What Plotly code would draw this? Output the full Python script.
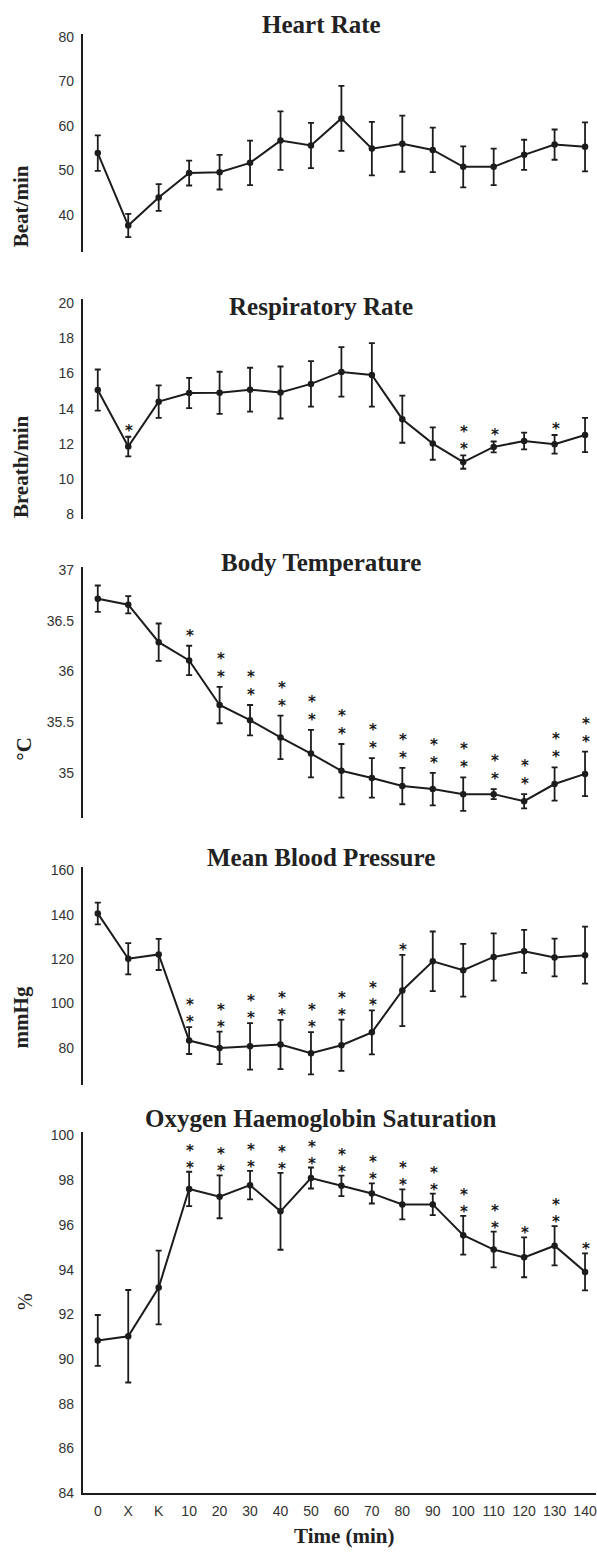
import plotly.graph_objects as go

W, H = 597, 1554

time_labels = ["0", "X", "K", "10", "20", "30", "40", "50", "60", "70",
               "80", "90", "100", "110", "120", "130", "140"]

hr_mean = [53.9, 37.6, 43.9, 49.4, 49.6, 51.7, 56.7, 55.6, 61.7, 54.9, 56.0, 54.6, 50.8, 50.8, 53.5, 55.8, 55.3]
hr_sd   = [4.0, 2.6, 3.0, 2.8, 3.9, 5.0, 6.6, 5.1, 7.3, 6.0, 6.3, 5.0, 4.6, 4.1, 3.4, 3.4, 5.5]
hr_sig  = [0] * 17

rr_mean = [15.06, 11.84, 14.40, 14.89, 14.90, 15.08, 14.92, 15.41, 16.09, 15.92, 13.40, 12.01, 10.96, 11.82, 12.16, 11.97, 12.50]
rr_sd   = [1.17, 0.56, 0.93, 0.86, 1.20, 1.25, 1.48, 1.30, 1.41, 1.81, 1.34, 0.92, 0.38, 0.31, 0.48, 0.53, 0.98]
rr_sig  = [0, 1, 0, 0, 0, 0, 0, 0, 0, 0, 0, 0, 2, 1, 0, 1, 0]

bt_mean = [36.72, 36.66, 36.29, 36.11, 35.67, 35.52, 35.35, 35.19, 35.02, 34.95, 34.87, 34.84, 34.79, 34.79, 34.72, 34.89, 34.99]
bt_sd   = [0.13, 0.085, 0.185, 0.145, 0.18, 0.15, 0.215, 0.235, 0.265, 0.195, 0.18, 0.16, 0.165, 0.05, 0.07, 0.165, 0.22]
bt_sig  = [0, 0, 0, 1, 2, 2, 2, 2, 2, 2, 2, 2, 2, 2, 2, 2, 2]

bp_mean = [140.6, 120.2, 122.1, 83.3, 80.0, 80.7, 81.5, 77.6, 81.2, 87.0, 105.9, 119.0, 115.0, 121.0, 123.5, 120.7, 121.8]
bp_sd   = [4.9, 7.05, 7.0, 6.05, 7.35, 10.45, 11.1, 9.55, 11.55, 9.95, 16.05, 13.45, 11.9, 10.65, 9.65, 8.5, 12.85]
bp_sig  = [0, 0, 0, 2, 2, 2, 2, 2, 2, 2, 1, 0, 0, 0, 0, 0, 0]

o2_mean = [90.83, 91.02, 93.20, 97.61, 97.26, 97.78, 96.61, 98.10, 97.75, 97.41, 96.92, 96.92, 95.54, 94.90, 94.55, 95.07, 93.90]
o2_sd   = [1.14, 2.07, 1.65, 0.77, 0.96, 0.64, 1.72, 0.47, 0.46, 0.45, 0.67, 0.48, 0.87, 0.80, 0.89, 0.88, 0.83]
o2_sig  = [0, 0, 0, 2, 2, 2, 2, 2, 2, 2, 2, 2, 2, 2, 1, 2, 1]

titles = ["Heart Rate", "Respiratory Rate", "Body Temperature",
          "Mean Blood Pressure", "Oxygen Haemoglobin Saturation"]
ylabels = ["Beat/min", "Breath/min", "°C", "mmHg", "%"]
yticks = [[40, 50, 60, 70, 80],
          [8, 10, 12, 14, 16, 18, 20],
          [35, 35.5, 36, 36.5, 37],
          [80, 100, 120, 140, 160],
          [84, 86, 88, 90, 92, 94, 96, 98, 100]]

means = [hr_mean, rr_mean, bt_mean, bp_mean, o2_mean]
sds = [hr_sd, rr_sd, bt_sd, bp_sd, o2_sd]
sigs = [hr_sig, rr_sig, bt_sig, bp_sig, o2_sig]

# layout (pixels)
yranges = [[31.6, 80.67], [7.72, 20.23], [34.553, 37.033], [63.2, 161.5], [84, 100.15]]
ydom_px = [[29.3, 249.3], [296.7, 518.3], [566.7, 820.0], [869.3, 1089.3], [1136.7, 1500.7]]
title_y_px = [19.5, 304, 562, 859.5, 1123]
ylab_y_px = [203, 465, 750, 1021, 1307]
ylab_x_px = [21, 21, 24, 21, 25]
star_gap = [9, 9.5, 14, 8.5, 7.5]   # px from bar top to centre of first star
STAR_STEP = 17.5
STAR_SIZE = 15

AX_X = 83
x_dom = [AX_X / W, 1.0]
x_range = [-0.49, 16.36]
INK = "#1c1c1c"
TXT = "#222222"
SANS = "Liberation Sans, Arial, sans-serif"
SERIF = "Liberation Serif, Times New Roman, serif"

fig = go.Figure()
annotations = []
xs = list(range(len(time_labels)))

def py(px):
    return 1 - px / H

for k in range(5):
    sx = "" if k == 0 else str(k + 1)
    fig.add_trace(go.Scatter(
        x=xs, y=means[k], mode="lines+markers",
        xaxis="x" + sx, yaxis="y" + sx,
        line=dict(color=INK, width=2),
        marker=dict(color=INK, size=6.5),
        error_y=dict(type="data", array=sds[k], visible=True,
                     color=INK, thickness=1.8, width=3),
        showlegend=False, hoverinfo="skip", cliponaxis=False))
    d0, d1 = ydom_px[k]
    fig.layout["yaxis" + sx] = dict(
        domain=[py(d1), py(d0)], range=yranges[k], anchor="x" + sx,
        showline=True, linecolor=INK, linewidth=2, ticks="",
        showgrid=False, zeroline=False, tickvals=yticks[k],
        tickfont=dict(family=SANS, size=14, color="#333333"),
        ticklabelstandoff=4, fixedrange=True)
    xa = dict(domain=x_dom, range=x_range, anchor="y" + sx,
              showgrid=False, zeroline=False, fixedrange=True,
              ticks="", tickvals=xs, ticktext=time_labels)
    if k == 4:
        xa.update(showline=True, linecolor=INK, linewidth=2,
                  showticklabels=True, ticklabeloverflow="allow",
                  tickfont=dict(family=SANS, size=14, color="#333333"),
                  ticklabelstandoff=4)
    else:
        xa.update(showline=False, showticklabels=False)
    fig.layout["xaxis" + sx] = xa

    annotations.append(dict(
        text="<b>%s</b>" % titles[k], xref="paper", yref="paper",
        x=322 / W, y=py(title_y_px[k]), xanchor="center", yanchor="middle",
        showarrow=False, font=dict(family=SERIF, size=25, color=TXT)))
    lab = ylabels[k] if k == 4 else "<b>%s</b>" % ylabels[k]
    annotations.append(dict(
        text=lab, xref="paper", yref="paper",
        x=ylab_x_px[k] / W, y=py(ylab_y_px[k]), xanchor="center", yanchor="middle",
        textangle=-90, showarrow=False,
        font=dict(family=SERIF, size=21 if k < 4 else 20, color=TXT)))
    for i, n in enumerate(sigs[k]):
        for j in range(n):
            annotations.append(dict(
                text="<b>*</b>", x=xs[i], y=means[k][i] + sds[k][i],
                xref="x" + sx, yref="y" + sx,
                xanchor="center", yanchor="middle", borderpad=0,
                yshift=round(star_gap[k] - 3.7 + STAR_STEP * j), xshift=1,
                showarrow=False,
                font=dict(family="DejaVu Sans", size=STAR_SIZE, color="#1a1a1a")))

annotations.append(dict(
    text="<b>Time (min)</b>", xref="paper", yref="paper",
    x=345 / W, y=py(1544), xanchor="center", yanchor="middle",
    showarrow=False, font=dict(family=SERIF, size=21, color=TXT)))

fig.update_layout(
    width=W, height=H, margin=dict(l=0, r=0, t=0, b=0),
    paper_bgcolor="white", plot_bgcolor="white",
    annotations=annotations, showlegend=False)

fig.write_html("out.html", config={"displayModeBar": False})

with open("out.html", encoding="utf-8") as f:
    html = f.read()
html = html.replace("<head>", "<head><style>html,body{margin:0;padding:0;overflow:hidden;}</style>", 1)
with open("out.html", "w", encoding="utf-8") as f:
    f.write(html)
